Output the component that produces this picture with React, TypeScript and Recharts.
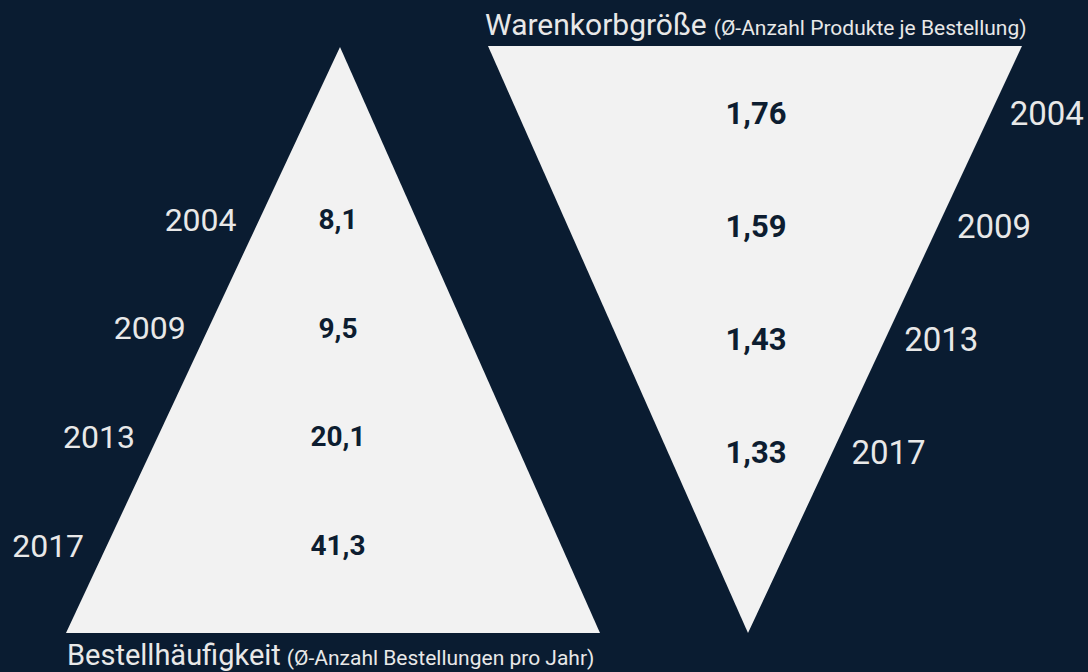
import { ComposedChart, XAxis, YAxis, Scatter, ReferenceArea } from "recharts";

// values
const years = ["2004", "2009", "2013", "2017"];
const ordersPerYear = [8.1, 9.5, 20.1, 41.3];
const basketSize = [1.76, 1.59, 1.43, 1.33];

const W = 1088;
const H = 672;

const BG = "#0a1c31";
const PAPER = "#f2f2f2";
const INK = "#0d1d30";
const LIGHT = "#e8e8e8";
const FONT = "Roboto, 'Noto Sans', sans-serif";

// triangle outlines, in plot units (the axes run 0..W / 0..H)
const pyramid = { apexX: 340, top: 47, left: 66, right: 600, bottom: 633 };
const funnel = { apexX: 748, top: 46, left: 488, right: 1022, bottom: 633 };

// row layout
const pyramidRow = { y0: 219, step: 108.7, x: 338, gap: 23 };
const funnelRow = { y0: 113, step: 113, x: 756, gap: 19 };

const fmt = (v: number) => String(v).replace(".", ",");

// x of the slanted edge at a given y
const pyramidEdge = (y: number) =>
  pyramid.apexX - ((y - pyramid.top) / (pyramid.bottom - pyramid.top)) * (pyramid.apexX - pyramid.left);
const funnelEdge = (y: number) =>
  funnel.right - ((y - funnel.top) / (funnel.bottom - funnel.top)) * (funnel.right - funnel.apexX);

const pyramidValues = ordersPerYear.map((v, i) => ({
  x: pyramidRow.x,
  y: pyramidRow.y0 + i * pyramidRow.step,
  text: fmt(v),
}));
const pyramidYears = years.map((yr, i) => {
  const y = pyramidRow.y0 + i * pyramidRow.step;
  return { x: pyramidEdge(y) - pyramidRow.gap, y, text: yr };
});
const funnelValues = basketSize.map((v, i) => ({
  x: funnelRow.x,
  y: funnelRow.y0 + i * funnelRow.step,
  text: fmt(v),
}));
const funnelYears = years.map((yr, i) => {
  const y = funnelRow.y0 + i * funnelRow.step;
  return { x: funnelEdge(y) + funnelRow.gap, y, text: yr };
});

const textShape =
  (size: number, weight: number, color: string, anchor: "start" | "middle" | "end") =>
  (props: any) => (
    <text
      x={props.cx}
      y={props.cy + size * 0.36}
      textAnchor={anchor}
      fontSize={size}
      fontWeight={weight}
      fill={color}
      fontFamily={FONT}
    >
      {props.payload.text}
    </text>
  );

// draws a triangle inside the rect that ReferenceArea hands over
const triangleShape = (tri: typeof pyramid, pointUp: boolean) => (props: any) => {
  const { x, y, width, height } = props;
  const ax = x + ((tri.apexX - tri.left) / (tri.right - tri.left)) * width;
  const pts = pointUp
    ? `${ax},${y} ${x + width},${y + height} ${x},${y + height}`
    : `${x},${y} ${x + width},${y} ${ax},${y + height}`;
  return <polygon points={pts} fill={PAPER} stroke="none" />;
};

export default function App() {
  return (
    <div style={{ position: "absolute", left: 0, top: 0, width: W, height: H, background: BG, overflow: "hidden" }}>
      <ComposedChart width={W} height={H} margin={{ top: 0, right: 0, bottom: 0, left: 0 }}>
        <XAxis type="number" dataKey="x" domain={[0, W]} allowDataOverflow hide />
        <YAxis type="number" dataKey="y" domain={[0, H]} reversed allowDataOverflow hide />

        <ReferenceArea
          x1={pyramid.left}
          x2={pyramid.right}
          y1={pyramid.top}
          y2={pyramid.bottom}
          shape={triangleShape(pyramid, true)}
        />
        <ReferenceArea
          x1={funnel.left}
          x2={funnel.right}
          y1={funnel.top}
          y2={funnel.bottom}
          shape={triangleShape(funnel, false)}
        />

        <Scatter data={pyramidValues} shape={textShape(28, 700, INK, "middle")} isAnimationActive={false} />
        <Scatter data={pyramidYears} shape={textShape(32, 400, LIGHT, "end")} isAnimationActive={false} />
        <Scatter data={funnelValues} shape={textShape(31, 700, INK, "middle")} isAnimationActive={false} />
        <Scatter data={funnelYears} shape={textShape(33, 400, LIGHT, "start")} isAnimationActive={false} />
      </ComposedChart>

      <svg width={W} height={H} style={{ position: "absolute", left: 0, top: 0, pointerEvents: "none" }}>
        <text x={485} y={35} fontSize={30} fill={LIGHT} fontFamily={FONT}>
          Warenkorbgröße
          <tspan fontSize={21} dx={7}>(Ø-Anzahl Produkte je Bestellung)</tspan>
        </text>
        <text x={67} y={665} fontSize={29} fill={LIGHT} fontFamily={FONT}>
          Bestellhäufigkeit
          <tspan fontSize={21} dx={6}>(Ø-Anzahl Bestellungen pro Jahr)</tspan>
        </text>
      </svg>
    </div>
  );
}
